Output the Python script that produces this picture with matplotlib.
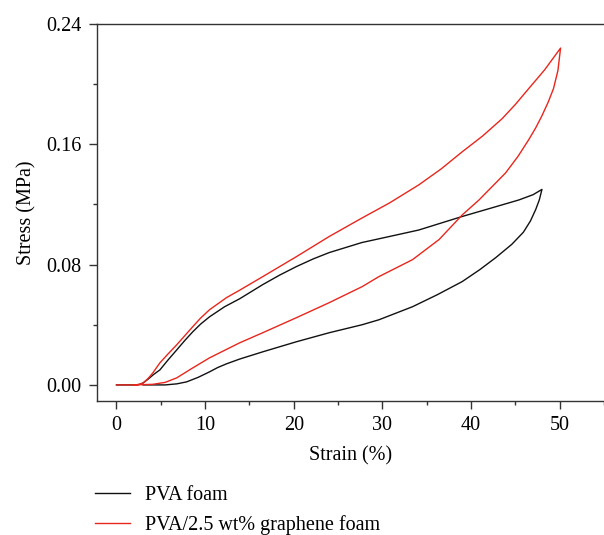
import matplotlib
matplotlib.use("Agg")
import matplotlib.pyplot as plt
from matplotlib.ticker import MultipleLocator, FormatStrFormatter

# PVA foam (black): loading then unloading
pva_strain = [0.0, 2.0, 2.6, 3.0, 3.6, 4.2, 4.9, 5.8, 6.8, 7.7, 8.6, 9.5, 10.5, 12.2, 13.9, 16.5, 18.4, 20.3, 22.2, 24.0, 27.7, 30.8, 34.1, 39.0, 42.5, 45.4, 47.0, 48.0,
              47.7, 47.3, 46.7, 45.9, 44.6, 42.8, 41.0, 39.0, 36.2, 33.4, 29.6, 27.7, 24.0, 20.3, 16.5, 13.9, 12.4, 11.4, 10.5, 9.2, 7.9, 6.8, 5.5, 3.0]
pva_stress = [0.0, 0.0, 0.0003, 0.0013, 0.0040, 0.0070, 0.010, 0.0165, 0.0233, 0.0295, 0.0353, 0.0405, 0.0453, 0.0520, 0.0573, 0.0667, 0.0730, 0.0787, 0.0838, 0.088, 0.0947, 0.0987, 0.103, 0.112, 0.118, 0.123, 0.1265, 0.130,
              0.123, 0.1167, 0.109, 0.1015, 0.0935, 0.0847, 0.0767, 0.0687, 0.060, 0.052, 0.0433, 0.0400, 0.0347, 0.0287, 0.022, 0.0172, 0.0140, 0.0115, 0.0087, 0.0050, 0.002, 0.0007, 0.0, 0.0]

# PVA/2.5 wt% graphene foam (red): loading then unloading
gr_strain = [0.0, 2.3, 3.0, 3.6, 4.1, 4.9, 5.8, 6.8, 7.7, 8.6, 9.5, 10.5, 12.4, 13.9, 16.5, 20.3, 24.0, 27.7, 30.8, 34.1, 36.6, 39.0, 41.3, 43.5, 45.0, 46.5, 48.3, 50.1,
             49.8, 49.3, 48.7, 48.0, 47.3, 46.5, 45.3, 43.9, 42.4, 40.9, 39.0, 36.4, 33.4, 29.6, 27.7, 24.0, 20.3, 16.5, 13.9, 12.2, 10.5, 8.6, 7.7, 6.8, 5.5, 4.1, 2.0]
gr_stress = [0.0, 0.0, 0.0012, 0.0045, 0.008, 0.0147, 0.0205, 0.0267, 0.0327, 0.0387, 0.0445, 0.050, 0.058, 0.063, 0.072, 0.0853, 0.0987, 0.111, 0.121, 0.133, 0.1435, 0.155, 0.1655, 0.177, 0.1865, 0.197, 0.2095, 0.224,
             0.209, 0.197, 0.188, 0.179, 0.171, 0.163, 0.152, 0.141, 0.132, 0.123, 0.113, 0.0967, 0.0833, 0.072, 0.0653, 0.0547, 0.0447, 0.0347, 0.028, 0.0230, 0.018, 0.0113, 0.0080, 0.0047, 0.0017, 0.0004, 0.0]

labels = ["PVA foam", "PVA/2.5 wt% graphene foam"]
x_ticks = [0, 10, 20, 30, 40, 50]
y_ticks = [0.00, 0.08, 0.16, 0.24]

plt.rcParams['font.family'] = ['Liberation Serif', 'DejaVu Serif']
plt.rcParams['font.size'] = 14.5

fig = plt.figure(figsize=(6.04, 5.35), dpi=100)
ax = fig.add_axes([97/604, (535-401)/535, (604-97)/604, (401-24)/535])

l1, = ax.plot(pva_strain, pva_stress, color='#111111', lw=1.0, label=labels[0])
l2, = ax.plot(gr_strain, gr_stress, color='#e8261c', lw=1.0, label=labels[1])

ax.set_xlim(-2.2, 55)
ax.set_ylim(-0.0107, 0.24)
ax.set_xticks(x_ticks)
ax.set_yticks(y_ticks)
ax.xaxis.set_minor_locator(MultipleLocator(5))
ax.yaxis.set_minor_locator(MultipleLocator(0.04))
ax.yaxis.set_major_formatter(FormatStrFormatter('%.2f'))
ax.tick_params(which='major', direction='out', length=6, width=1.0, pad=5, labelsize=14.5, color='#333333')
ax.tick_params(which='minor', direction='out', length=3, width=1.0, color='#333333')
ax.spines['right'].set_visible(False)
for s in ['left', 'bottom', 'top']:
    ax.spines[s].set_linewidth(1.0)
    ax.spines[s].set_color('#333333')

ax.set_xlabel("Strain (%)", fontsize=14.5, labelpad=8)
ax.set_ylabel("Stress (MPa)", fontsize=14.5, labelpad=7)

fig.legend(handles=[l1, l2], labels=labels, loc='upper left',
           bbox_to_anchor=(95/604, (535-486)/535), frameon=False, fontsize=14.5,
           handlelength=1.75, handletextpad=0.75, labelspacing=0.5,
           borderpad=0, borderaxespad=0)

fig.savefig("out.png", dpi=100)
